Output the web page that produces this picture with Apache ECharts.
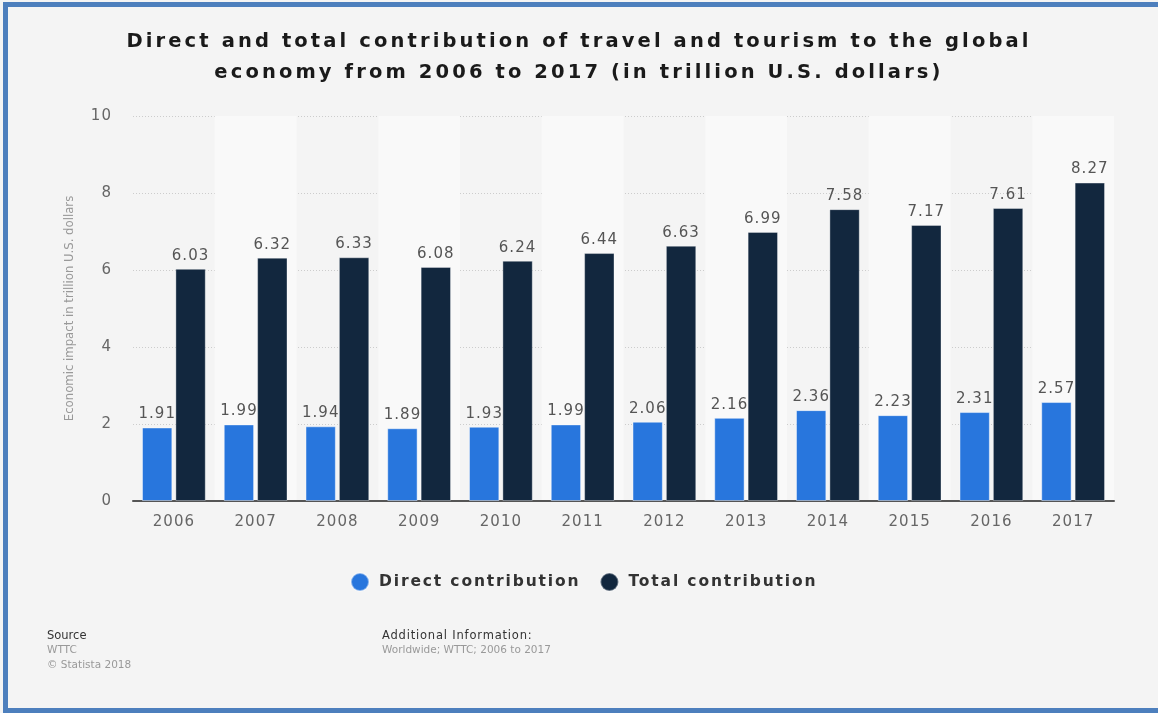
<!DOCTYPE html>
<html><head><meta charset="utf-8">
<script src="https://cdn.jsdelivr.net/npm/echarts@6/dist/echarts.min.js"></script>
<style>
html,body{margin:0;padding:0;background:#fff;}
#wrap{position:relative;width:1158px;height:713px;overflow:hidden;}
#c{position:absolute;left:0;top:0;width:1158px;height:713px;background:#f4f4f4;}
#b{position:absolute;left:3px;top:2px;width:1160px;height:701px;border-left:5px solid #4d7fbd;border-top:5px solid #4d7fbd;border-bottom:5px solid #4d7fbd;pointer-events:none;}
</style></head>
<body><div id="wrap"><div id="c"></div><div id="b"></div></div>
<script>
const years = ['2006','2007','2008','2009','2010','2011','2012','2013','2014','2015','2016','2017'];
const direct = [1.91,1.99,1.94,1.89,1.93,1.99,2.06,2.16,2.36,2.23,2.31,2.57];
const total = [6.03,6.32,6.33,6.08,6.24,6.44,6.63,6.99,7.58,7.17,7.61,8.27];
const yTicks = [0,2,4,6,8,10];
const seriesNames = ['Direct contribution','Total contribution'];

// letter spacing emulation (the reference text is tracked out)
(function(){
  const P = CanvasRenderingContext2D.prototype;
  function applySpacing(ctx){
    const f = ctx.font || '';
    if (!('letterSpacing' in ctx)) return;
    if (f.indexOf('sans-serif') >= 0) { ctx.letterSpacing = '0px'; return; }
    const m = f.match(/([\d.]+)px/);
    const size = m ? parseFloat(m[1]) : 12;
    const bold = /bold|[6-9]00/.test(f);
    const k = bold ? (size > 18 ? 0.16 : 0.12) : 0.07;
    ctx.letterSpacing = (size * k).toFixed(2) + 'px';
  }
  const ft = P.fillText, mt = P.measureText, st = P.strokeText;
  P.fillText = function(){ applySpacing(this); return ft.apply(this, arguments); };
  P.strokeText = function(){ applySpacing(this); return st.apply(this, arguments); };
  P.measureText = function(){ applySpacing(this); return mt.apply(this, arguments); };
})();

const chart = echarts.init(document.getElementById('c'), null, {renderer:'canvas'});
const F = 'DejaVu Sans';
const F2 = 'DejaVu Sans, sans-serif';
const lbl = {show:true,position:'top',distance:5,fontFamily:F,fontSize:15,color:'#555',formatter:p=>p.value.toFixed(2)};
chart.setOption({
  backgroundColor:'#f4f4f4',
  animation:false,
  title:{
    text:'Direct and total contribution of travel and tourism to the global\neconomy from 2006 to 2017 (in trillion U.S. dollars)',
    left:'center', top:21,
    textStyle:{fontFamily:F,fontWeight:'bold',fontSize:19.5,lineHeight:31,color:'#1a1a1a'}
  },
  legend:{
    data:seriesNames, left:345, top:567, icon:'circle', itemWidth:18, itemHeight:18, itemGap:19,
    textStyle:{fontFamily:F,fontWeight:'bold',fontSize:15.5,color:'#333',padding:[0,0,0,5]}
  },
  grid:{left:133,right:44,top:116,bottom:212,containLabel:false},
  xAxis:{
    type:'category', data:years,
    axisLine:{lineStyle:{color:'#555',width:2}},
    axisTick:{show:false},
    axisLabel:{fontFamily:F,fontSize:15,color:'#666',margin:13},
    splitArea:{show:true,areaStyle:{color:['rgba(0,0,0,0)','#f9f9f9']}}
  },
  yAxis:{
    type:'value', min:yTicks[0], max:yTicks[yTicks.length-1], interval:2,
    name:'Economic impact in trillion U.S. dollars', nameLocation:'middle', nameGap:57,
    nameTextStyle:{fontFamily:F2,fontSize:11.7,color:'#999'},
    axisLine:{show:false}, axisTick:{show:false},
    axisLabel:{fontFamily:F,fontSize:15,color:'#666',margin:21},
    splitLine:{lineStyle:{color:'#ccc',type:[1,2],width:1}}
  },
  series:[
    {name:seriesNames[0],type:'bar',data:direct,barGap:'10%',barCategoryGap:'22%',
     itemStyle:{color:'#2876dd',borderColor:'rgba(255,255,255,0.45)',borderWidth:1},
     label:lbl},
    {name:seriesNames[1],type:'bar',data:total,zlevel:1,
     itemStyle:{color:'#12273e',borderColor:'rgba(255,255,255,0.35)',borderWidth:1},
     label:lbl}
  ],
  graphic:[
    {type:'text',left:47,top:630,style:{text:'Source',fontFamily:F2,fontSize:11.5,fill:'#333'}},
    {type:'text',left:47,top:645,style:{text:'WTTC',fontFamily:F2,fontSize:10.5,fill:'#999'}},
    {type:'text',left:47,top:660,style:{text:'© Statista 2018',fontFamily:F2,fontSize:10.5,fill:'#999'}},
    {type:'text',left:382,top:630,style:{text:'Additional Information:',fontFamily:F,fontSize:11.5,fill:'#333'}},
    {type:'text',left:382,top:645,style:{text:'Worldwide; WTTC; 2006 to 2017',fontFamily:F2,fontSize:10.5,fill:'#999'}}
  ]
});
</script></body></html>
